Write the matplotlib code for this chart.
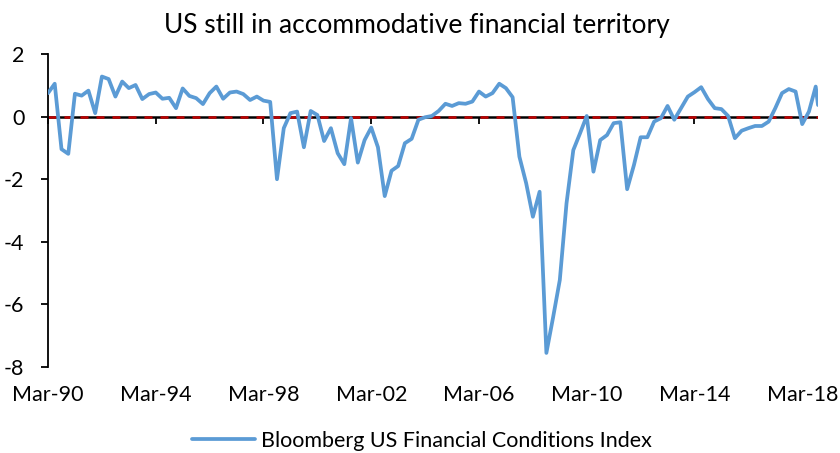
import matplotlib
matplotlib.use("Agg")
import matplotlib.pyplot as plt
import matplotlib.dates as mdates
import pandas as pd

plt.rcParams['font.family'] = ['Lato', 'DejaVu Sans']

# Quarterly values, Mar-90 .. Sep-18, plus latest reading (Oct-18)
fci_values = [
    0.75, 1.05, -1.04, -1.19, 0.73, 0.67, 0.83, 0.11, 1.28, 1.20,
    0.64, 1.12, 0.91, 1.01, 0.56, 0.72, 0.77, 0.57, 0.60, 0.27,
    0.90, 0.66, 0.59, 0.40, 0.75, 0.96, 0.57, 0.77, 0.80, 0.72,
    0.53, 0.64, 0.51, 0.47, -2.00, -0.37, 0.11, 0.16, -0.98, 0.18,
    0.05, -0.78, -0.37, -1.17, -1.52, -0.05, -1.47, -0.75, -0.35, -0.98,
    -2.54, -1.73, -1.58, -0.85, -0.71, -0.10, -0.02, 0.02, 0.18, 0.41,
    0.34, 0.43, 0.41, 0.48, 0.80, 0.64, 0.75, 1.05, 0.91, 0.62,
    -1.28, -2.13, -3.20, -2.40, -7.55, -6.40, -5.22, -2.77, -1.07, -0.53,
    0.02, -1.76, -0.75, -0.59, -0.21, -0.18, -2.32, -1.55, -0.66, -0.66,
    -0.16, -0.05, 0.34, -0.10, 0.27, 0.64, 0.78, 0.94, 0.56, 0.27,
    0.24, 0.02, -0.69, -0.45, -0.37, -0.30, -0.30, -0.16, 0.27, 0.75,
    0.88, 0.80, -0.24, 0.16, 0.96, 0.37,
]
quarter_dates = list(pd.date_range('1990-03-31', periods=115, freq='QE'))
dates = quarter_dates + [pd.Timestamp('2018-10-31')]

tick_years = list(range(1990, 2019, 4))
y_ticks = [-8, -6, -4, -2, 0, 2]

title = "US still in accommodative financial territory"
series_label = "Bloomberg US Financial Conditions Index"

W, H = 840, 453
fig = plt.figure(figsize=(W / 100, H / 100), dpi=100)
ax = fig.add_axes([48 / W, 1 - 367 / H, (818 - 48) / W, (367 - 54) / H])

ax.plot(dates, fci_values, color='#5B9BD5', lw=2.7, solid_joinstyle='round',
        solid_capstyle='round', label=series_label, zorder=3)

ax.set_xlim(dates[0], dates[-1])
ax.set_ylim(-8, 2)

# zero line: black with red dashes
ax.axhline(0, color='black', lw=1.8, zorder=1)
ax.axhline(0, color='#C00000', lw=1.8, dashes=(3.2, 3.2), zorder=2)

# spines
for s in ['top', 'right']:
    ax.spines[s].set_visible(False)
ax.spines['bottom'].set_position(('data', 0))
ax.spines['bottom'].set_visible(False)
ax.spines['left'].set_linewidth(1.3)

ax.set_yticks(y_ticks)
ax.set_yticklabels([str(v) for v in y_ticks])
ax.tick_params(axis='y', direction='out', length=5, width=1.3, labelsize=15.5, pad=12)

tick_dates = [pd.Timestamp(f'{y}-03-31') for y in tick_years]
ax.set_xticks(tick_dates)
ax.tick_params(axis='x', direction='out', length=5, width=1.3, labelbottom=False)

sec = ax.secondary_xaxis('bottom')
sec.set_xticks(tick_dates)
sec.xaxis.set_major_formatter(mdates.DateFormatter('%b-%y'))
sec.spines['bottom'].set_visible(False)
sec.tick_params(axis='x', length=0, labelsize=15.5, pad=13)

fig.text(417 / W, 1 - 26 / H, title, ha='center', va='center', fontsize=19)

fig.legend(loc='center', bbox_to_anchor=(422 / W, 1 - 441 / H), frameon=False,
           fontsize=15.5, handlelength=2.9, handletextpad=0.3)

fig.savefig('out.png', dpi=100)
